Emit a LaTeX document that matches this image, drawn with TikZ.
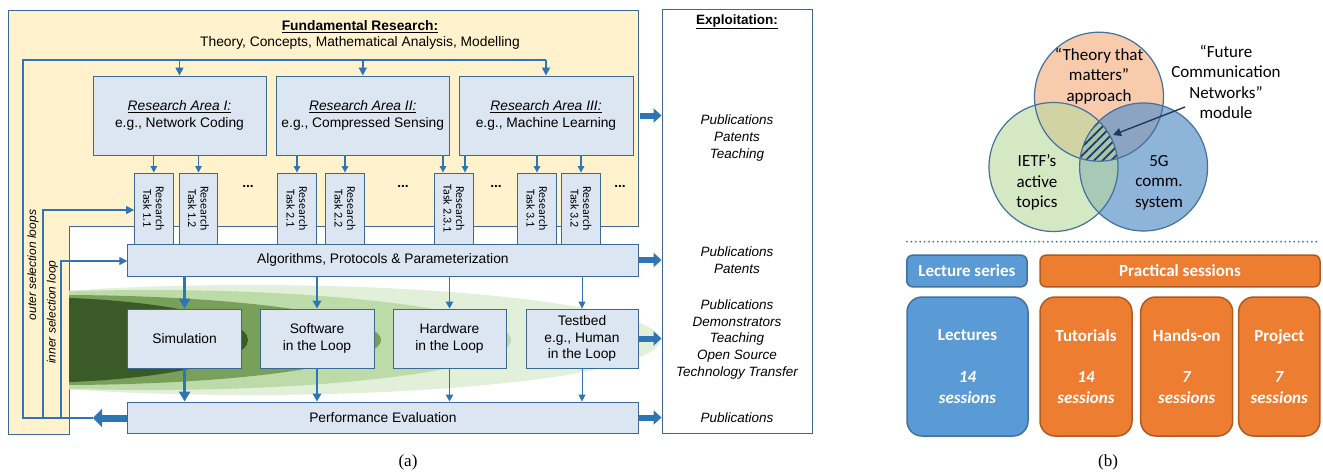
\documentclass[tikz,border=0pt]{standalone}
\usepackage{fontspec}
\setmainfont{Liberation Sans}
\newfontfamily\carl{Carlito}
\newfontfamily\tnr{Liberation Serif}
\usetikzlibrary{arrows.meta,patterns.meta}
\definecolor{ylw}{HTML}{FFF2CC}
\definecolor{boxf}{HTML}{DCE6F2}
\definecolor{boxd}{HTML}{3C6991}
\definecolor{arrc}{HTML}{2E75B6}
\definecolor{gA}{HTML}{E2EFD9}
\definecolor{gB}{HTML}{BDDBA8}
\definecolor{gC}{HTML}{78A05A}
\definecolor{gD}{HTML}{3A5A27}
\definecolor{topc}{HTML}{F8CBAD}
\definecolor{rightc}{HTML}{5F94CA}
\definecolor{leftc}{HTML}{B9D99D}
\definecolor{circb}{HTML}{41719C}
\definecolor{navy}{HTML}{1F3864}
\definecolor{bluef}{HTML}{5B9BD5}
\definecolor{bluebd}{HTML}{41719C}
\definecolor{orgf}{HTML}{ED7D31}
\definecolor{orgbd}{HTML}{AE5A21}
\tikzset{
  rbox/.style={draw=boxd, fill=boxf, line width=0.9pt, inner sep=0pt, align=center, font=\fontsize{13.8}{16.7}\selectfont},
  tbox/.style={draw=boxd, fill=boxf, line width=0.9pt, minimum width=38.5pt, minimum height=71pt},
  tlabel/.style={rotate=-90, align=center, font=\carl\fontsize{12}{12.5}\selectfont},
  arr/.style={draw=arrc, line width=1.3pt, -{Triangle[width=6.5pt,length=6.5pt]}},
  looparr/.style={draw=arrc, line width=1.6pt, -{Triangle[width=8pt,length=8pt]}},
  loopl/.style={draw=arrc, line width=1.6pt},
  blk/.style={draw=arrc, line width=6pt, -{Triangle[width=14pt,length=8pt]}},
  expltext/.style={align=center, font=\itshape\fontsize{13.5}{16.7}\selectfont},
  dots/.style={font=\bfseries\fontsize{13.8}{14}\selectfont},
  vtext/.style={font=\itshape\fontsize{12}{14}\selectfont},
  bbox/.style={draw=bluebd, fill=bluef, line width=1.5pt, text=white, align=center, font=\carl\bfseries\fontsize{17}{20.7}\selectfont},
  obox/.style={draw=orgbd, fill=orgf, line width=1.5pt, text=white, align=center, font=\carl\bfseries\fontsize{17}{20.7}\selectfont},
  vlab/.style={align=center, font=\carl\fontsize{17}{20.5}\selectfont},
  circ/.style={draw=circb, line width=1.2pt},
}
\begin{document}
\begin{tikzpicture}[x=1pt,y=-1pt]
\useasboundingbox (0,0) rectangle (1323,474);
% ---------------- (a) ----------------
\filldraw[fill=ylw, draw=boxd, line width=0.9pt] (8,10) -- (638,10) -- (638,226) -- (69,226) -- (69,434) -- (8,434) -- cycle;
% green cones
\begin{scope}
\clip (69,228) rectangle (700,474);
\fill[gA] (250,340) ellipse [x radius=410pt, y radius=55pt];
\fill[gB] (150,340) ellipse [x radius=361pt, y radius=50pt];
\fill[gC] (60,340) ellipse [x radius=321pt, y radius=45pt];
\fill[gD] (23,340) ellipse [x radius=225pt, y radius=43pt];
\end{scope}
% titles
\node[font=\bfseries\fontsize{13.8}{16}\selectfont] (ft) at (360,27) {\underline{Fundamental Research:}};
\node[font=\fontsize{13.8}{16}\selectfont] (ft2) at (360,43) {Theory, Concepts, Mathematical Analysis, Modelling};
% research areas
\node[rbox, minimum width=173pt, minimum height=79pt] (a1) at (179.5,115.5) {\underline{\textit{Research Area I:}}\\e.g., Network Coding};
\node[rbox, minimum width=173.6pt, minimum height=79pt] (a2) at (362.8,115.5) {\underline{\textit{Research Area II:}}\\e.g., Compressed Sensing};
\node[rbox, minimum width=174pt, minimum height=79pt] (a3) at (546,115.5) {\underline{\textit{Research Area III:}}\\e.g., Machine Learning};
% research tasks
\node[tbox] (t11) at (153.8,208.5) {};
\node[tbox] (t12) at (198.5,208.5) {};
\node[tbox] (t21) at (297,208.5) {};
\node[tbox] (t22) at (345,208.5) {};
\node[tbox] (t231) at (454,208.5) {};
\node[tbox] (t31) at (537,208.5) {};
\node[tbox] (t32) at (581,208.5) {};
\node[tlabel] (l11) at (t11) {Research\\Task 1.1};
\node[tlabel] (l12) at (t12) {Research\\Task 1.2};
\node[tlabel] (l21) at (t21) {Research\\Task 2.1};
\node[tlabel] (l22) at (t22) {Research\\Task 2.2};
\node[tlabel] (l231) at (t231) {Research\\Task 2.3.1};
\node[tlabel] (l31) at (t31) {Research\\Task 3.1};
\node[tlabel] (l32) at (t32) {Research\\Task 3.2};
\node[dots] (d1) at (248,186) {...};
\node[dots] (d2) at (403,186) {...};
\node[dots] (d3) at (496,186) {...};
\node[dots] (d4) at (620,186) {...};
% arrows area -> task
\draw[arr] (a1.south -| t11) -- (t11.north);
\draw[arr] (a1.south -| t12) -- (t12.north);
\draw[arr] (a2.south -| t21) -- (t21.north);
\draw[arr] (a2.south -| t22) -- (t22.north);
\coordinate (x443) at (443,0);
\coordinate (x465) at (465,0);
\draw[arr] (a2.south -| x443) -- (t231.north -| x443);
\draw[arr] (a3.south -| x465) -- (t231.north -| x465);
\draw[arr] (a3.south -| t31) -- (t31.north);
\draw[arr] (a3.south -| t32) -- (t32.north);
% algorithms, methods, evaluation
\node[rbox, minimum width=510.3pt, minimum height=32pt] (algo) at (382.9,260) {Algorithms, Protocols \& Parameterization};
\node[rbox, minimum width=113.8pt, minimum height=59pt] (sim) at (184.6,338.5) {Simulation};
\node[rbox, minimum width=114pt, minimum height=59pt] (sw) at (317,338.5) {Software\\in the Loop};
\node[rbox, minimum width=113pt, minimum height=59pt] (hw) at (449.5,338.5) {Hardware\\in the Loop};
\node[rbox, minimum width=112pt, minimum height=59pt] (tb) at (582,338.5) {Testbed\\e.g., Human\\in the Loop};
\node[rbox, minimum width=510.3pt, minimum height=31pt] (pe) at (382.9,417.5) {Performance Evaluation};
% vertical arrows
\draw[draw=arrc, line width=2.8pt, -{Triangle[width=11pt,length=10pt]}] (algo.south -| sim) -- (sim.north);
\draw[draw=arrc, line width=1.9pt, -{Triangle[width=8.5pt,length=8pt]}] (algo.south -| sw) -- (sw.north);
\draw[draw=arrc, line width=1.4pt, -{Triangle[width=7.5pt,length=7pt]}] (algo.south -| hw) -- (hw.north);
\draw[draw=arrc, line width=0.9pt, -{Triangle[width=7pt,length=7pt]}] (algo.south -| tb) -- (tb.north);
\draw[draw=arrc, line width=2.8pt, -{Triangle[width=11pt,length=10pt]}] (sim.south) -- (pe.north -| sim);
\draw[draw=arrc, line width=1.9pt, -{Triangle[width=8.5pt,length=8pt]}] (sw.south) -- (pe.north -| sw);
\draw[draw=arrc, line width=1.4pt, -{Triangle[width=7.5pt,length=7pt]}] (hw.south) -- (pe.north -| hw);
\draw[draw=arrc, line width=0.9pt, -{Triangle[width=7pt,length=7pt]}] (tb.south) -- (pe.north -| tb);
% loops
\coordinate (ytop) at (0,60);
\coordinate (y210) at (0,210);
\coordinate (y261) at (0,261);
\coordinate (lpA) at (23,418);
\coordinate (lpB) at (43,418);
\coordinate (lpC) at (61,418);
\coordinate (tip) at (93,418);
\draw[loopl] (tip) -- (lpA) -- (lpA |- ytop) -- (a3.north |- ytop);
\draw[looparr] (a1.north |- ytop) -- (a1.north);
\draw[looparr] (a2.north |- ytop) -- (a2.north);
\draw[looparr] (a3.north |- ytop) -- (a3.north);
\draw[draw=arrc, line width=1.3pt, -{Triangle[width=8pt,length=8pt]}] (lpB) -- (lpB |- y210) -- (t11.west |- y210);
\draw[draw=arrc, line width=1.1pt, -{Triangle[width=8pt,length=8pt]}] (lpC) -- (lpC |- y261) -- (algo.west |- y261);
\draw[draw=arrc, line width=7pt, -{Triangle[width=18pt,length=9pt]}] (pe.west |- tip) -- (tip);
\node[vtext, rotate=90] (outl) at (33,265) {outer selection loops};
\node[vtext, rotate=90] (innl) at (52.5,312) {inner selection loop};
% exploitation
\node[draw=boxd, line width=0.9pt, fill=white, minimum width=150pt, minimum height=424pt, inner sep=0pt] (expl) at (737,221) {};
\node[font=\bfseries\fontsize{13.5}{16}\selectfont] (exh) at (737,22) {\underline{Exploitation:}};
\node[expltext] (e1) at (737,138) {Publications\\Patents\\Teaching};
\node[expltext] (e2) at (737,260) {Publications\\Patents};
\node[expltext] (e3) at (737,339.5) {Publications\\Demonstrators\\Teaching\\Open Source\\Technology Transfer};
\node[expltext] (e4) at (737,418) {Publications};
\coordinate (xb) at (640,0);
\draw[blk] (xb |- a3.east) -- (expl.west |- a3.east);
\draw[blk] (algo.east) -- (expl.west |- algo.east);
\draw[blk] (tb.east) -- (expl.west |- tb.east);
\draw[blk] (pe.east) -- (expl.west |- pe.east);
\node[font=\tnr\fontsize{17}{20}\selectfont] (capa) at (408,462) {(a)};
% ---------------- (b) ----------------
\fill[topc] (1099,96.7) circle[radius=64.5pt];
\fill[rightc, fill opacity=0.7] (1143.6,167) circle[radius=64pt];
\fill[leftc, fill opacity=0.6] (1053.5,167) circle[radius=64.5pt];
\begin{scope}
\clip (1099,96.7) circle[radius=64.5pt];
\clip (1143.6,167) circle[radius=64pt];
\fill[pattern={Lines[angle=45,distance=6pt,line width=1.8pt]}, pattern color=navy] (1053.5,167) circle[radius=64.5pt];
\end{scope}
\draw[circ] (1099,96.7) circle[radius=64.5pt];
\draw[circ] (1143.6,167) circle[radius=64pt];
\draw[circ] (1053.5,167) circle[radius=64.5pt];
\node[vlab] (ttm) at (1099,76) {“Theory that\\matters”\\approach};
\node[vlab] (ietf) at (1037,182.5) {IETF’s\\active\\topics};
\node[vlab] (fg) at (1159,182.5) {5G\\comm.\\system};
\node[vlab] (fcn) at (1226,82) {“Future\\Communication\\Networks”\\module};
\coordinate (fcnarr) at (1185,107);
\coordinate (hatchc) at (1113,135);
\draw[draw=navy, line width=1.4pt, -{Triangle[width=8pt,length=8pt]}] (fcnarr) -- (hatchc);
\coordinate (dl) at (907,241.7);
\coordinate (dr) at (1320,241.7);
\draw[arrc, line width=2pt, line cap=round, dash pattern=on 0pt off 4.4pt] (dl) -- (dr);
\node[bbox, rounded corners=6pt, minimum width=120.3pt, minimum height=31.7pt, inner sep=0pt] (ls) at (966.9,271) {Lecture series};
\node[obox, rounded corners=6pt, minimum width=280pt, minimum height=31.7pt, inner sep=0pt] (ps) at (1180,271) {Practical sessions};
\node[bbox, rounded corners=15pt, minimum width=121pt, minimum height=139pt, inner sep=0pt] (lec) at (967.5,366.5) {Lectures\\[20.7pt]\textit{14}\\\textit{sessions}};
\node[obox, rounded corners=15pt, minimum width=92pt, minimum height=139pt, inner sep=0pt] (tut) at (1086,366.5) {Tutorials\\[20.7pt]\textit{14}\\\textit{sessions}};
\node[obox, rounded corners=15pt, minimum width=92pt, minimum height=139pt, inner sep=0pt] (hon) at (1186.7,366.5) {Hands-on\\[20.7pt]\textit{7}\\\textit{sessions}};
\node[obox, rounded corners=15pt, minimum width=81.3pt, minimum height=139pt, inner sep=0pt] (prj) at (1279.3,366.5) {Project\\[20.7pt]\textit{7}\\\textit{sessions}};
\node[font=\tnr\fontsize{17}{20}\selectfont] (capb) at (1108,462.7) {(b)};
\end{tikzpicture}
\end{document}
